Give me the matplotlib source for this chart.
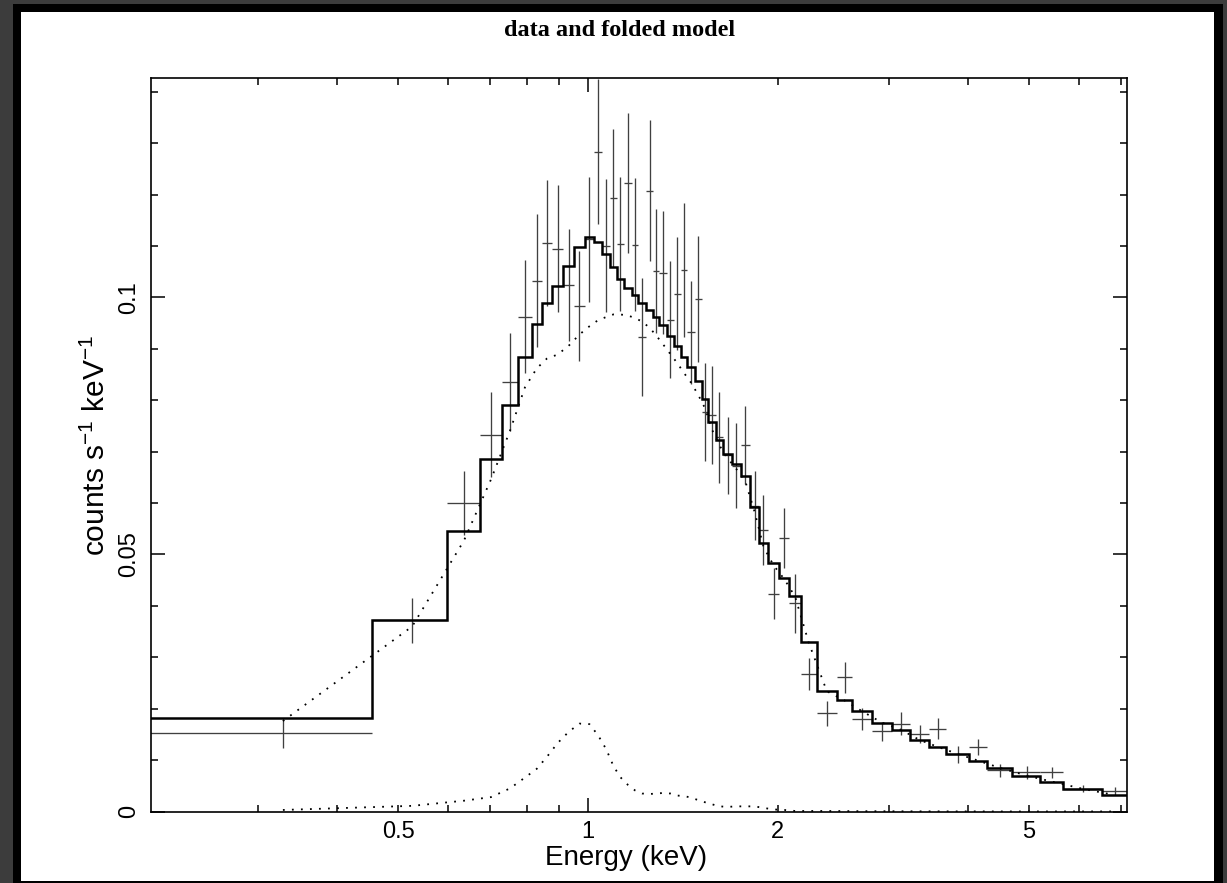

# data and folded model (XSPEC style plot)

import numpy as np
import matplotlib.pyplot as plt
from matplotlib.patches import Rectangle
from matplotlib.ticker import FixedLocator, MultipleLocator, FuncFormatter, NullFormatter

# energy bin edges (keV)
edges = [0.202, 0.455, 0.598, 0.674, 0.730, 0.775, 0.814, 0.845, 0.876, 0.914,
         0.950, 0.989, 1.022, 1.054, 1.084, 1.110, 1.140, 1.173, 1.202, 1.236,
         1.269, 1.297, 1.333, 1.369, 1.403, 1.437, 1.478, 1.514, 1.551, 1.594,
         1.638, 1.693, 1.746, 1.806, 1.868, 1.927, 2.010, 2.085, 2.174, 2.304,
         2.478, 2.624, 2.816, 3.029, 3.238, 3.475, 3.689, 4.021, 4.283, 4.703,
         5.213, 5.666, 6.518, 7.15]

# data (counts s-1 keV-1) and 1 sigma errors
data_y = [0.0152, 0.0372, 0.0600, 0.0733, 0.0835, 0.0963, 0.1033, 0.1106, 0.1095, 0.1025,
          0.0983, 0.1113, 0.1284, 0.1101, 0.1194, 0.1104, 0.1222, 0.1103, 0.0923, 0.1208,
          0.1051, 0.1048, 0.0957, 0.1007, 0.1053, 0.0932, 0.0997, 0.0777, 0.0772, 0.0728,
          0.0693, 0.0673, 0.0713, 0.0595, 0.0548, 0.0424, 0.0532, 0.0405, 0.0268, 0.0191,
          0.0261, 0.0180, 0.0156, 0.0171, 0.0151, 0.0161, 0.0111, 0.0125, 0.0080, 0.0076,
          0.0076, 0.0044, 0.0040]
data_err = [0.0028, 0.0044, 0.0063, 0.0083, 0.0095, 0.0109, 0.0129, 0.0123, 0.0123, 0.0109,
            0.0107, 0.0122, 0.0142, 0.0129, 0.0134, 0.0130, 0.0136, 0.0130, 0.0114, 0.0137,
            0.0121, 0.0120, 0.0114, 0.0110, 0.0130, 0.0101, 0.0122, 0.0096, 0.0095, 0.0089,
            0.0075, 0.0082, 0.0076, 0.0067, 0.0068, 0.0050, 0.0058, 0.0058, 0.0031, 0.0024,
            0.0030, 0.0022, 0.0019, 0.0022, 0.0017, 0.0020, 0.0016, 0.0016, 0.0012, 0.0013,
            0.0011, 0.0007, 0.0007]

# total folded model
model = [0.0182, 0.0373, 0.0545, 0.0686, 0.0790, 0.0885, 0.0949, 0.0990, 0.1023, 0.1062,
         0.1098, 0.1117, 0.1108, 0.1085, 0.1059, 0.1036, 0.1019, 0.1004, 0.0990, 0.0976,
         0.0963, 0.0947, 0.0926, 0.0905, 0.0885, 0.0864, 0.0837, 0.0803, 0.0757, 0.0722,
         0.0696, 0.0676, 0.0652, 0.0593, 0.0522, 0.0483, 0.0455, 0.0419, 0.0329, 0.0235,
         0.0217, 0.0196, 0.0173, 0.0159, 0.0139, 0.0126, 0.0112, 0.0099, 0.0085, 0.0070,
         0.0058, 0.0044, 0.0032]

# model components
comp1 = [0.0176, 0.0360, 0.0527, 0.0646, 0.0741, 0.0825, 0.0862, 0.0881, 0.0889, 0.0906,
         0.0928, 0.0944, 0.0956, 0.0962, 0.0967, 0.0967, 0.0965, 0.0960, 0.0953, 0.0941,
         0.0926, 0.0909, 0.0890, 0.0872, 0.0853, 0.0834, 0.0810, 0.0785, 0.0743, 0.0712,
         0.0687, 0.0666, 0.0642, 0.0583, 0.0515, 0.0479, 0.0452, 0.0418, 0.0328, 0.0234,
         0.0216, 0.0195, 0.0173, 0.0159, 0.0139, 0.0126, 0.0112, 0.0099, 0.0085, 0.0070,
         0.0058, 0.0044, 0.0032]
comp2 = [0.0003, 0.0011, 0.0021, 0.0028, 0.0045, 0.0066, 0.0083, 0.0106, 0.0133, 0.0155,
         0.0171, 0.0170, 0.0148, 0.0121, 0.0089, 0.0067, 0.0052, 0.0041, 0.0035, 0.0034,
         0.0035, 0.0036, 0.0035, 0.0031, 0.0030, 0.0027, 0.0022, 0.0018, 0.0014, 0.0010,
         0.0009, 0.0010, 0.0010, 0.0010, 0.0007, 0.0004, 0.0003, 0.0001, 0.0001, 0.0001,
         0.00008, 0.00006, 0.00005, 0.00004, 0.00003, 0.00003, 0.00002, 0.00002, 0.00001, 0.00001,
         0.00001, 0.00001, 0.00001]

plt.rcParams['font.family'] = ['Liberation Sans', 'DejaVu Sans']
plt.rcParams['mathtext.fontset'] = 'custom'
plt.rcParams['mathtext.rm'] = 'Liberation Sans'
plt.rcParams['mathtext.default'] = 'regular'

e = np.array(edges)
lo, hi = e[:-1], e[1:]
cen = (lo + hi) / 2

W, H = 1227, 883
fig = plt.figure(figsize=(W / 100, H / 100), dpi=100)
fig.patch.set_facecolor('#3c3c3c')
# black frame and white page
fig.add_artist(Rectangle((13 / W, 0), 1210 / W, 879 / H, transform=fig.transFigure,
                         facecolor='black', edgecolor='none', zorder=-2))
fig.add_artist(Rectangle((21 / W, 2 / H), 1193 / W, 869 / H, transform=fig.transFigure,
                         facecolor='white', edgecolor='none', zorder=-1))

ax = fig.add_axes([151 / W, 1 - 811.5 / H, 976 / W, 733.5 / H])
ax.set_facecolor('none')

# data crosses
ax.errorbar(cen, data_y, xerr=[cen - lo, hi - cen], yerr=data_err, fmt='none',
            ecolor='0.25', elinewidth=0.95, capsize=0, zorder=2)
# folded model
ax.stairs(model, edges, baseline=None, color='black', linewidth=1.8, zorder=3)
# components
ax.plot(cen, comp1, color='black', linestyle=(0, (1, 4)), linewidth=1.3, zorder=3)
ax.plot(cen, comp2, color='black', linestyle=(0, (1, 4)), linewidth=1.3, zorder=3)

ax.set_xscale('log')
ax.set_xlim(0.203, 7.15)
ax.set_ylim(0, 0.1427)

# PGPLOT-like ticks: major at the decade, labelled minors at 0.5, 2, 5
ax.xaxis.set_major_locator(FixedLocator([1]))
ax.xaxis.set_minor_locator(FixedLocator([0.3, 0.4, 0.5, 0.6, 0.7, 0.8, 0.9, 2, 3, 4, 5, 6, 7]))
ax.xaxis.set_major_formatter(FuncFormatter(lambda v, p: '1'))
ax.xaxis.set_minor_formatter(FuncFormatter(lambda v, p: {0.5: '0.5', 2: '2', 5: '5'}.get(v, '')))
ax.yaxis.set_major_locator(MultipleLocator(0.05))
ax.yaxis.set_minor_locator(MultipleLocator(0.01))
ax.yaxis.set_major_formatter(FuncFormatter(lambda v, p: '0' if v == 0 else f'{v:g}'))
ax.yaxis.set_minor_formatter(NullFormatter())

ax.tick_params(which='both', direction='in', top=True, right=True, labelsize=17, width=1.1)
ax.tick_params(which='major', length=10)
ax.tick_params(which='minor', length=5)
ax.tick_params(axis='x', which='both', pad=7)
ax.tick_params(axis='y', which='both', pad=8)
for lab in ax.get_yticklabels():
    lab.set_rotation(90)
    lab.set_va('center')

for s in ax.spines.values():
    s.set_linewidth(1.2)

# axis titles placed like the PGPLOT labels
fig.text(626 / W, 1 - 858 / H, 'Energy (keV)', ha='center', va='center', fontsize=20)
fig.text(96 / W, 1 - 445 / H, 'counts s$^{-1}$ keV$^{-1}$', ha='center', va='center',
         rotation=90, fontsize=21.5)

fig.text(620 / W, 1 - 30 / H, 'data and folded model', ha='center', va='center',
         fontsize=17.5, fontweight='bold', family='Liberation Serif')

fig.savefig('out.png', dpi=100, facecolor=fig.get_facecolor())
